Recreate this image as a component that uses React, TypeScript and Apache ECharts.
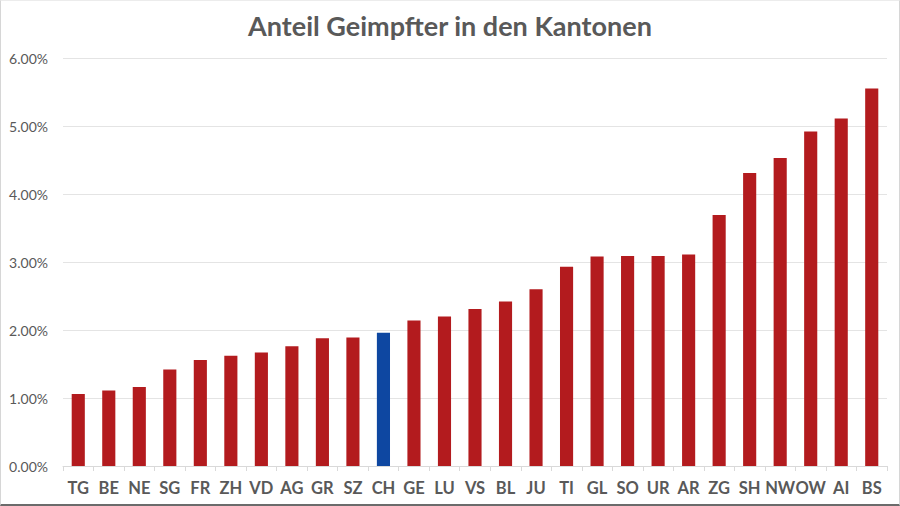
import React, { useEffect, useRef } from "react";
import * as echarts from "echarts";

const title = "Anteil Geimpfter in den Kantonen";
const cantons = ["TG","BE","NE","SG","FR","ZH","VD","AG","GR","SZ","CH","GE","LU","VS","BL","JU","TI","GL","SO","UR","AR","ZG","SH","NW","OW","AI","BS"];
const shares = [1.06,1.11,1.16,1.42,1.56,1.62,1.67,1.76,1.88,1.89,1.96,2.14,2.20,2.31,2.42,2.60,2.93,3.08,3.09,3.09,3.11,3.69,4.31,4.53,4.92,5.11,5.55];
const highlight = "CH";
const yTicks = [0, 1, 2, 3, 4, 5, 6];

export default function App() {
  const ref = useRef<HTMLDivElement>(null);
  useEffect(() => {
    if (!ref.current) return;
    const chart = echarts.init(ref.current, undefined, { renderer: "svg" });
    chart.setOption({
      animation: false,
      backgroundColor: "#ffffff",
      title: {
        text: title,
        left: "center",
        top: 6,
        textStyle: { fontFamily: "Lato", fontWeight: "bold", fontSize: 27, color: "#595959" },
      },
      grid: { left: 62, right: 12, top: 57, bottom: 38, containLabel: false },
      xAxis: {
        type: "category",
        data: cantons,
        axisLine: { show: true, lineStyle: { color: "#d9d9d9", width: 1 } },
        axisTick: { show: true, alignWithLabel: false, length: 5, lineStyle: { color: "#d9d9d9" } },
        axisLabel: {
          interval: 0,
          margin: 13,
          fontFamily: "Lato",
          fontWeight: "bold",
          fontSize: 16.5,
          color: "#595959",
        },
      },
      yAxis: {
        type: "value",
        min: yTicks[0],
        max: yTicks[yTicks.length - 1],
        interval: 1,
        axisLine: { show: false },
        axisTick: { show: false },
        splitLine: { lineStyle: { color: "#e4e4e4", width: 1 } },
        axisLabel: {
          margin: 15,
          fontFamily: "Lato",
          fontSize: 14,
          color: "#595959",
          formatter: (v: number) => v.toFixed(2) + "%",
        },
      },
      series: [
        {
          type: "bar",
          barWidth: "43%",
          data: shares.map((v, i) => ({
            value: v,
            itemStyle: { color: cantons[i] === highlight ? "#0e47a1" : "#b31b1e" },
          })),
        },
      ],
    });
    return () => chart.dispose();
  }, []);
  return (
    <div
      style={{
        position: "absolute",
        left: 0,
        top: 0,
        width: 900,
        height: 506,
        boxSizing: "border-box",
        borderLeft: "1px solid #d6d6d6",
        borderTop: "1px solid #ececec",
        borderRight: "1px solid #d6d6d6",
        borderBottom: "2px solid #6b6b6b",
        background: "#fff",
      }}
    >
      <div ref={ref} style={{ width: "100%", height: "100%" }} />
    </div>
  );
}
